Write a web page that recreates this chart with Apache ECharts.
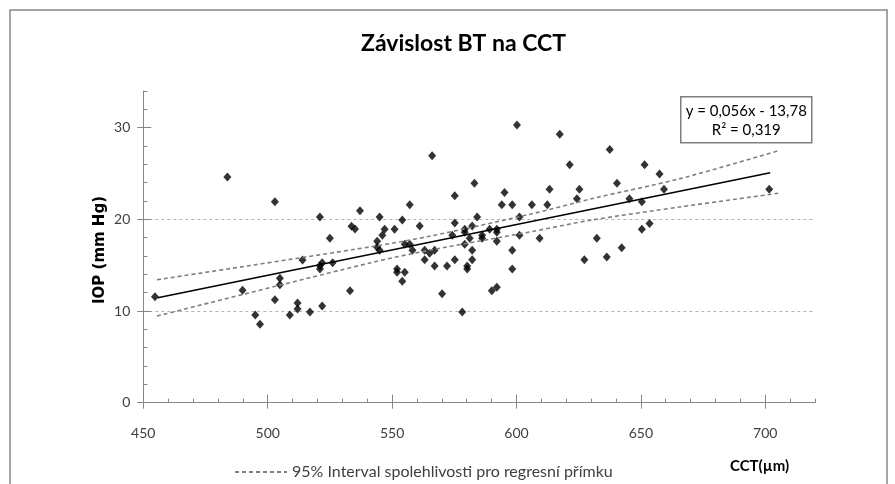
<!DOCTYPE html>
<html>
<head>
<meta charset="utf-8">
<script src="https://cdn.jsdelivr.net/npm/echarts@6/dist/echarts.min.js"></script>
<style>
  html, body { margin: 0; padding: 0; background: #fff; }
  #chart { width: 895px; height: 484px; }
</style>
</head>
<body>
<div id="chart"></div>
<script>
// measured values (CCT in um, IOP in mm Hg)
const cct = [483.8,454.7,489.9,502.9,502.9,495.0,496.9,504.9,504.9,508.9,512.0,512.0,517.0,514.0,521.0,525.0,521.9,521.0,521.0,526.1,521.9,533.1,537.1,533.7,535.1,
  600.2,566.1,617.4,621.4,583.1,595.2,575.2,557.1,594.1,598.3,606.2,612.4,613.3,625.3,624.3,545.0,554.1,584.2,601.2,575.2,561.1,551.0,547.0,546.1,544.0,544.0,545.0,
  579.2,579.2,582.2,574.2,581.2,586.2,586.2,589.2,592.1,592.1,601.2,592.1,609.3,555.1,557.1,558.2,563.1,567.1,565.1,579.2,582.2,563.1,575.2,582.2,598.3,
  552.0,552.0,555.1,554.1,567.1,572.1,580.2,580.2,598.3,570.1,590.1,592.1,578.2,627.3,
  637.5,651.5,657.5,640.4,659.3,645.4,650.4,701.6,653.5,650.4,632.3,642.3,636.3];
const iop = [24.61,11.56,12.26,21.92,11.23,9.56,8.55,13.57,12.87,9.56,10.87,10.22,9.89,15.56,20.25,17.93,15.27,14.94,14.58,15.27,10.55,12.21,20.94,19.24,18.94,
  30.28,26.94,29.27,25.95,23.93,22.94,22.57,21.59,21.59,21.59,21.59,21.59,23.27,23.27,22.25,20.25,19.92,20.25,20.25,19.6,19.27,18.91,18.91,18.26,17.6,16.95,16.62,
  18.91,18.58,19.27,18.26,17.93,18.26,17.93,18.91,18.91,18.58,18.26,17.6,17.93,17.27,17.27,16.62,16.62,16.62,16.29,17.27,16.62,15.59,15.59,15.59,16.62,
  14.58,14.22,14.22,13.24,14.91,14.91,14.91,14.58,14.58,11.89,12.21,12.58,9.89,15.59,
  27.63,25.95,24.94,23.93,23.27,22.25,21.92,23.27,19.56,18.91,17.93,16.9,15.89];

// regression line and 95% band
const trendX = [455.8, 702];
const trendY = [11.45, 25.08];
const ciX = [455.5, 541.5, 565.5, 605.8, 630.2, 666.2, 705.2];
const ciUpper = [13.41, 17.01, 18.18, 20.58, 22.25, 24.47, 27.48];
const ciLower = [9.45, 15.27, 16.65, 18.65, 19.92, 21.37, 22.84];

const xTicks = [450, 500, 550, 600, 650, 700];
const yTicks = [0, 10, 20, 30];
const eqText = ['y = 0,056x - 13,78', 'R\u00b2 = 0,319'];
const ciName = '95% Interval spolehlivosti pro regresní přímku';

const pts = cct.map((v, i) => [v, iop[i]]);
const trend = trendX.map((v, i) => [v, trendY[i]]);
const up = ciX.map((v, i) => [v, ciUpper[i]]);
const low = ciX.map((v, i) => [v, ciLower[i]]);

const font = 'Lato, "Open Sans", sans-serif';
const axisGrey = '#868686';

var myChart = echarts.init(document.getElementById('chart'));

const xBase = {type: 'value', gridIndex: 0, position: 'bottom', min: 450, max: 720};
const yBase = {type: 'value', gridIndex: 0, position: 'left', min: 0, max: 34};

var option = {
  animation: false,
  backgroundColor: '#fff',
  title: {
    text: 'Závislost BT na CCT', left: 356, top: 27,
    textStyle: {fontFamily: font, fontSize: 23, fontWeight: 'bold', color: '#000'}
  },
  grid: {left: 143.3, right: 80, top: 91, bottom: 81.3},
  legend: {
    left: 229, top: 459, itemWidth: 52, itemHeight: 10, itemGap: 6,
    data: [ciName],
    itemStyle: {opacity: 0},
    textStyle: {fontFamily: font, fontSize: 16, color: '#404040'}
  },
  xAxis: [
    Object.assign({}, xBase, {
      interval: 50,
      axisLine: {show: true, lineStyle: {color: axisGrey, width: 1}},
      axisTick: {show: true, inside: false, length: 6, customValues: xTicks, lineStyle: {color: axisGrey}},
      axisLabel: {customValues: xTicks, margin: 24, fontFamily: font, fontSize: 14, color: '#404040'},
      splitLine: {show: false}
    }),
    Object.assign({}, xBase, {
      interval: 50,
      axisLine: {show: false}, axisLabel: {show: false}, splitLine: {show: false},
      axisTick: {show: true, inside: true, length: 8, customValues: xTicks, lineStyle: {color: axisGrey}}
    }),
    Object.assign({}, xBase, {
      interval: 10,
      axisLine: {show: false}, axisLabel: {show: false}, splitLine: {show: false},
      axisTick: {show: true, inside: true, length: 4, lineStyle: {color: axisGrey}}
    })
  ],
  yAxis: [
    Object.assign({}, yBase, {
      interval: 10,
      axisLine: {show: true, lineStyle: {color: axisGrey, width: 1}},
      axisTick: {show: true, inside: false, length: 6, customValues: yTicks, lineStyle: {color: axisGrey}},
      axisLabel: {customValues: yTicks, margin: 13, fontFamily: font, fontSize: 14, color: '#404040'},
      splitLine: {show: true, showMinLine: false, showMaxLine: false,
        lineStyle: {color: '#b4b4b4', type: [3, 3], width: 1}}
    }),
    Object.assign({}, yBase, {
      interval: 10,
      axisLine: {show: false}, axisLabel: {show: false}, splitLine: {show: false},
      axisTick: {show: true, inside: true, length: 8, customValues: yTicks, lineStyle: {color: axisGrey}}
    }),
    Object.assign({}, yBase, {
      interval: 2,
      axisLine: {show: false}, axisLabel: {show: false}, splitLine: {show: false},
      axisTick: {show: true, inside: true, length: 4, lineStyle: {color: axisGrey}}
    })
  ],
  series: [
    {name: 'IOP', type: 'scatter', data: pts, symbol: 'diamond', symbolSize: [8, 9],
      itemStyle: {color: '#000'}, z: 3},
    {name: 'trend', type: 'line', data: trend, symbol: 'none',
      lineStyle: {color: '#000', width: 1.6}, z: 4},
    {name: ciName, type: 'line', data: up, symbol: 'none', smooth: 0.3,
      lineStyle: {color: '#7f7f7f', width: 1.6, type: [4, 3]}, itemStyle: {color: '#7f7f7f'}, z: 4},
    {name: ciName, type: 'line', data: low, symbol: 'none', smooth: 0.3,
      lineStyle: {color: '#7f7f7f', width: 1.6, type: [4, 3]}, itemStyle: {color: '#7f7f7f'}, z: 4}
  ],
  graphic: [
    {type: 'rect', shape: {x: 10, y: 10, width: 877, height: 490}, silent: true,
      style: {fill: 'none', stroke: '#868686', lineWidth: 1.5}, z: 0},
    // y axis title, rotated
    {type: 'text', x: 100, y: 250, rotation: Math.PI / 2,
      style: {text: 'IOP (mm Hg)', align: 'center', verticalAlign: 'middle',
        font: 'bold 15px "DejaVu Sans"', fill: '#000'}},
    {type: 'group', left: 680, top: 96, z: 10, children: [
      {type: 'rect', shape: {x: 0, y: 0, width: 131, height: 46},
        style: {fill: '#fff', stroke: '#7f7f7f', lineWidth: 1.5}},
      {type: 'text', x: 65.5, y: 14, style: {text: eqText[0], align: 'center', verticalAlign: 'middle',
        font: '15px ' + font, fill: '#000'}},
      {type: 'text', x: 65.5, y: 33, style: {text: eqText[1], align: 'center', verticalAlign: 'middle',
        font: '15px ' + font, fill: '#000'}}
    ]},
    {type: 'text', left: 730, top: 459, style: {text: 'CCT(\u00b5m)',
      font: 'bold 15px ' + font, fill: '#000'}}
  ]
};

option && myChart.setOption(option);
</script>
</body>
</html>
